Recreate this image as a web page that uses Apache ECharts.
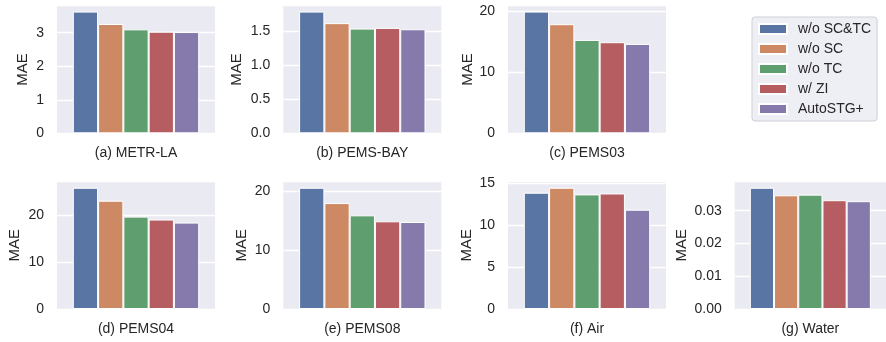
<!DOCTYPE html>
<html>
<head>
<meta charset="utf-8">
<script src="https://cdn.jsdelivr.net/npm/echarts@6/dist/echarts.min.js"></script>
<style>
  html, body { margin: 0; padding: 0; background: #ffffff; }
  #chart { width: 886px; height: 342px; }
</style>
</head>
<body>
<div id="chart"></div>
<script>
// Ablation variants (one bar each per dataset)
const variants = ['w/o SC&TC', 'w/o SC', 'w/o TC', 'w/ ZI', 'AutoSTG+'];

// Dataset captions
const datasetTitles = ['(a) METR-LA', '(b) PEMS-BAY', '(c) PEMS03', '(d) PEMS04', '(e) PEMS08', '(f) Air', '(g) Water'];

// MAE per variant, in the order of `variants`
const maeMetrLa = [3.63, 3.26, 3.10, 3.03, 3.02];
const maePemsBay = [1.79, 1.62, 1.54, 1.55, 1.53];
const maePems03 = [19.87, 17.81, 15.25, 14.87, 14.59];
const maePems04 = [25.80, 23.04, 19.66, 19.03, 18.39];
const maePems08 = [20.52, 17.93, 15.85, 14.84, 14.72];
const maeAir = [13.83, 14.42, 13.63, 13.74, 11.81];
const maeWater = [0.0370, 0.0347, 0.0349, 0.0332, 0.0329];

// Y tick spacing and label decimals per dataset
const tickSteps = [1, 0.5, 10, 10, 10, 5, 0.01];
const tickDecimals = [0, 1, 0, 0, 0, 0, 2];

const maeByDataset = [maeMetrLa, maePemsBay, maePems03, maePems04, maePems08, maeAir, maeWater];

// Muted "deep" palette
const colors = ['#5975a4', '#cc8963', '#5f9e6e', '#b55d60', '#857aab'];
const textColor = '#262626';
const fontFamily = "'Liberation Sans', Arial, Helvetica, sans-serif";

// Panel boxes: [left, top, width, height, y-name gap]
const panels = [
  [57, 5.5, 158, 127.8, 27],
  [283.3, 5.5, 158, 127.8, 39],
  [508, 5.5, 158, 127.8, 33],
  [57, 181.7, 158, 127.3, 35],
  [283.3, 181.7, 158, 127.3, 34],
  [508, 181.7, 158, 127.3, 34],
  [734.7, 181.7, 158, 127.3, 45]
];

const grids = [], xAxes = [], yAxes = [], series = [];

maeByDataset.forEach((vals, i) => {
  const [l, t, w, h, nameGap] = panels[i];
  const step = tickSteps[i];
  const dec = tickDecimals[i];
  grids.push({ left: l, top: t, width: w, height: h, backgroundColor: '#eaeaf2', show: true, borderWidth: 0 });
  xAxes.push({
    gridIndex: i, type: 'category', data: [datasetTitles[i]],
    axisLine: { show: false }, axisTick: { show: false }, axisLabel: { show: false },
    name: datasetTitles[i], nameLocation: 'middle', nameGap: 13,
    nameTextStyle: { fontSize: 14, color: textColor, fontFamily }
  });
  yAxes.push({
    gridIndex: i, type: 'value', min: 0, max: Math.max(...vals) * 1.05, interval: step,
    axisLine: { show: false }, axisTick: { show: false },
    splitLine: { show: true, lineStyle: { color: '#ffffff', width: 1.4 } },
    axisLabel: {
      fontSize: 14, color: textColor, fontFamily, margin: 13,
      formatter: v => {
        const k = v / step;
        return Math.abs(k - Math.round(k)) < 1e-6 ? v.toFixed(dec) : '';
      }
    },
    name: 'MAE', nameLocation: 'middle', nameRotate: 90, nameGap,
    nameTextStyle: { fontSize: 15, color: textColor, fontFamily }
  });
  variants.forEach((name, j) => {
    series.push({
      type: 'bar', name, xAxisIndex: i, yAxisIndex: i,
      data: [vals[j]],
      barGap: '0%', barCategoryGap: '20%',
      itemStyle: { color: colors[j], borderColor: '#ffffff', borderWidth: 1 },
      emphasis: { disabled: true }
    });
  });
});

const chart = echarts.init(document.getElementById('chart'), null, { renderer: 'canvas' });
chart.setOption({
  animation: false,
  textStyle: { fontFamily },
  grid: grids,
  xAxis: xAxes,
  yAxis: yAxes,
  series,
  legend: {
    data: variants,
    orient: 'vertical',
    left: 752, top: 17,
    padding: [5, 6, 5, 6],
    itemGap: 6, itemWidth: 28, itemHeight: 10,
    icon: 'rect',
    backgroundColor: '#eeeef5',
    borderColor: '#cfcfd6', borderWidth: 1, borderRadius: 3,
    textStyle: { fontSize: 14, color: textColor, fontFamily, lineHeight: 14, padding: [0, 0, 0, 6] }
  }
});
</script>
</body>
</html>
